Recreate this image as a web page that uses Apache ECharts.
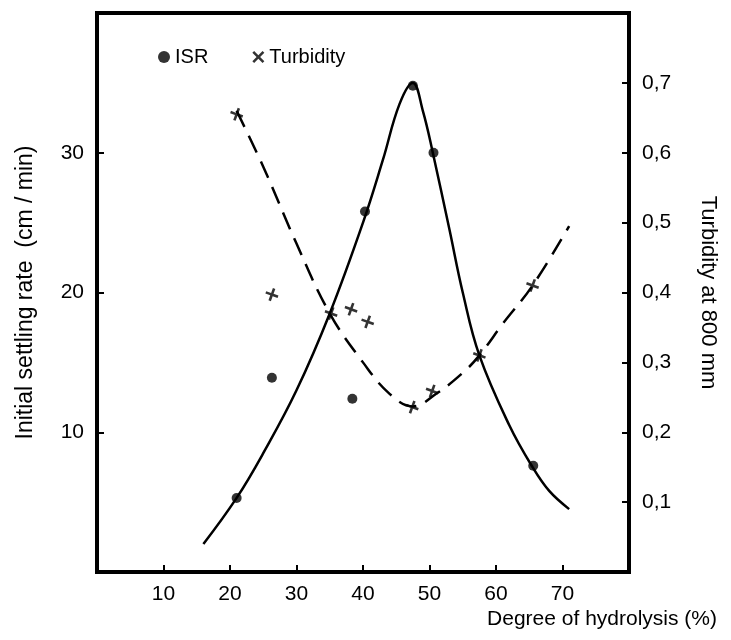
<!DOCTYPE html>
<html lang="en">
<head>
    <meta charset="UTF-8">
    <title>ISR and turbidity</title>
    <style>
        body{
            margin: 0;
            background-color: #ffffff;
        }
    </style>
    <script src="https://cdn.jsdelivr.net/npm/echarts@6.0.0/dist/echarts.min.js"></script>
</head>
<body>
<div id="chart" style="width: 731px;height:640px;"></div>
<script type="text/javascript">
    // measured points
    var isrX = [21, 26.3, 38.4, 40.3, 47.5, 50.6, 65.6];
    var isrY = [5.3, 13.9, 12.4, 25.8, 34.8, 30, 7.6];
    var turbX = [21, 26.3, 35.2, 38.2, 40.7, 47.4, 50.4, 57.5, 65.5];
    var turbY = [0.655, 0.397, 0.37, 0.376, 0.358, 0.236, 0.259, 0.31, 0.41];

    // hand drawn curves
    var isrCurveX = [16, 21, 25, 30, 35, 40, 43, 45.5, 47.5, 49, 50.5, 53, 55, 57.5, 62, 65.5, 68, 71];
    var isrCurveY = [2.0, 5.3, 8.5, 13, 18.5, 25, 29.5, 33.5, 35, 33, 30, 24.5, 20, 15.5, 10.5, 7.5, 5.8, 4.5];
    var turbCurveX = [21, 25, 30, 35, 40, 44, 47.5, 51, 55, 57.5, 61, 65.5, 71];
    var turbCurveY = [0.66, 0.58, 0.47, 0.37, 0.30, 0.255, 0.237, 0.255, 0.285, 0.31, 0.355, 0.41, 0.495];

    function pairs(xs, ys){
        var out = [];
        for(var i=0;i<xs.length;i++){
            out.push([xs[i], ys[i]]);
        }
        return out;
    }

    var crossPath = 'path://M4,0H6V4H10V6H6V10H4V6H0V4H4Z';
    var xPath = 'path://M0,1.5L1.5,0L5,3.5L8.5,0L10,1.5L6.5,5L10,8.5L8.5,10L5,6.5L1.5,10L0,8.5L3.5,5Z';
    var font = 'Liberation Sans';
    var ink = '#000';

    var option = {
        backgroundColor: '#ffffff',
        animation: false,
        textStyle: {fontFamily: font, color: ink},
        legend: {
            left: 153,
            top: 42,
            itemGap: 44,
            itemWidth: 12,
            itemHeight: 12,
            textStyle: {fontSize: 20, fontFamily: font, color: ink},
            data: [
                {name: 'ISR', icon: 'circle'},
                {name: 'Turbidity', icon: xPath}
            ]
        },
        grid: {
            left: 97,
            right: 102,
            top: 13,
            bottom: 68,
            show: true,
            borderColor: ink,
            borderWidth: 4
        },
        xAxis: {
            type: 'value',
            min: 0,
            max: 80,
            interval: 10,
            name: 'Degree of hydrolysis (%)',
            nameLocation: 'end',
            nameGap: 88,
            nameTextStyle: {fontSize: 21, align: 'right', verticalAlign: 'top', padding: [37, 0, 0, 0], color: ink},
            axisLine: {lineStyle: {color: ink, width: 4}},
            axisTick: {inside: true, length: 7, lineStyle: {color: ink, width: 2}},
            splitLine: {show: false},
            axisLabel: {
                fontSize: 21,
                color: ink,
                margin: 12,
                formatter: function(v){ return (v === 0 || v === 80) ? '' : v; }
            }
        },
        yAxis: [{
            type: 'value',
            min: 0,
            max: 40,
            interval: 10,
            name: 'Initial settling rate  (cm / min)',
            nameLocation: 'middle',
            nameGap: 60,
            nameTextStyle: {fontSize: 23, color: ink},
            axisLine: {show: true, lineStyle: {color: ink, width: 4}},
            axisTick: {show: true, inside: true, length: 7, lineStyle: {color: ink, width: 2}},
            splitLine: {show: false},
            axisLabel: {
                fontSize: 21,
                color: ink,
                margin: 13,
                formatter: function(v){ return (v === 0 || v === 40) ? '' : v; }
            }
        }, {
            type: 'value',
            min: 0,
            max: 0.8,
            interval: 0.1,
            position: 'right',
            name: 'Turbidity at 800 mm',
            nameLocation: 'middle',
            nameGap: 68,
            nameRotate: -90,
            nameTextStyle: {fontSize: 22, color: ink},
            axisLine: {show: true, lineStyle: {color: ink, width: 4}},
            axisTick: {show: true, inside: true, length: 7, lineStyle: {color: ink, width: 2}},
            splitLine: {show: false},
            axisLabel: {
                fontSize: 21,
                color: ink,
                margin: 13,
                formatter: function(v){
                    if(v < 0.05 || v > 0.75) return '';
                    return v.toFixed(1).replace('.', ',');
                }
            }
        }],
        series: [{
            name: 'ISR fit',
            type: 'line',
            smooth: 0.4,
            symbol: 'none',
            lineStyle: {color: ink, width: 2.5},
            data: pairs(isrCurveX, isrCurveY)
        }, {
            name: 'Turbidity fit',
            type: 'line',
            yAxisIndex: 1,
            smooth: 0.4,
            symbol: 'none',
            lineStyle: {color: ink, width: 2.5, type: [18, 10]},
            data: pairs(turbCurveX, turbCurveY)
        }, {
            name: 'ISR',
            type: 'scatter',
            symbol: 'circle',
            symbolSize: 10,
            itemStyle: {color: ink},
            data: pairs(isrX, isrY)
        }, {
            name: 'Turbidity',
            type: 'scatter',
            yAxisIndex: 1,
            symbol: crossPath,
            symbolSize: 13,
            symbolRotate: -20,
            itemStyle: {color: ink},
            data: pairs(turbX, turbY)
        }]
    };
    var chart = echarts.init(document.getElementById('chart'));
    chart.setOption(option);
</script>
</body>
</html>
